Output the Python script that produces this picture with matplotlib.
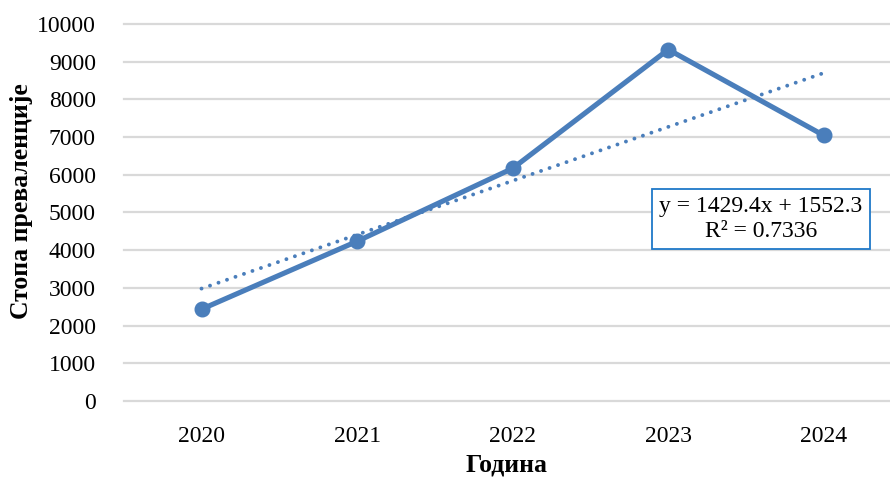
import matplotlib
matplotlib.use("Agg")
import matplotlib.pyplot as plt
import numpy as np

years = ["2020", "2021", "2022", "2023", "2024"]
prevalence = [2435, 4235, 6170, 9320, 7042]
trend_slope = 1429.4
trend_intercept = 1552.3
r_squared = 0.7336
y_ticks = [0, 1000, 2000, 3000, 4000, 5000, 6000, 7000, 8000, 9000, 10000]

plt.rcParams["font.family"] = ["Liberation Serif", "DejaVu Serif"]
blue = "#4A7EBB"

fig = plt.figure(figsize=(8.9, 4.78), dpi=100)
ax = fig.add_axes([0.139, 0.161, 0.861, 0.789])

x = np.arange(len(years))
ax.plot(x, prevalence, color=blue, linewidth=3.7, marker="o", markersize=10.5,
        solid_capstyle="round", zorder=3, clip_on=False)

# linear trend (Excel numbers categories from 1)
trend = [trend_slope * (i + 1) + trend_intercept for i in x]
ax.plot(x, trend, color=blue, linewidth=2.8, linestyle=(0, (0.01, 2.3)),
        dash_capstyle="round", zorder=2)

ax.set_ylim(0, 10000)
ax.set_xlim(-0.5, 4.425)
ax.set_yticks(y_ticks)
ax.set_xticks(x)
ax.set_xticklabels(years)
ax.grid(axis="y", color="#D9D9D9", linewidth=1.6)
for gl in ax.get_ygridlines():
    gl.set_clip_on(False)
ax.set_axisbelow(True)
for s in ax.spines.values():
    s.set_visible(False)
ax.tick_params(axis="both", length=0, labelsize=17)
ax.tick_params(axis="y", pad=20)
ax.tick_params(axis="x", pad=18)

ax.set_ylabel("Стопа преваленције", fontsize=18.5, fontweight="bold", va="center")
ax.yaxis.set_label_coords(-0.134, 0.53)
ax.set_xlabel("Година", fontsize=18.5, fontweight="bold", labelpad=5)

eq = f"y = {trend_slope}x + {trend_intercept}\nR² = {r_squared}"
fig.text(761 / 890, 1 - 219 / 478, eq, ha="center", va="center", fontsize=17,
         linespacing=1.25,
         bbox=dict(boxstyle="square,pad=0.3", facecolor="white",
                   edgecolor="#1F78C8", linewidth=1.3))

fig.savefig("out.png", dpi=100)
